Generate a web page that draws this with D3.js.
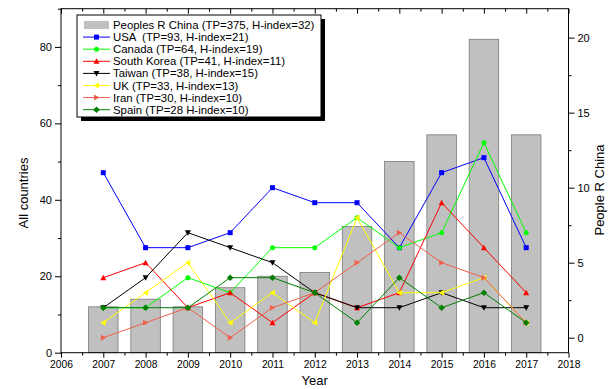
<!DOCTYPE html>
<html><head><meta charset="utf-8">
<script src="https://cdn.jsdelivr.net/npm/d3@7"></script>
<style>
html,body{margin:0;padding:0;background:#fff;}
text{font-family:"Liberation Sans",Arial,sans-serif;}
</style></head>
<body><svg id="c" width="613" height="389"></svg>
<script>
const years = [2007,2008,2009,2010,2011,2012,2013,2014,2015,2016,2017];
const chinaBars = [12,14,12,17,20,21,33,50,57,82,57];
const usa    = [11,6,6,7,10,9,9,6,11,12,6];
const canada = [2,2,4,3,6,6,8,6,7,13,7];
const korea  = [4,5,2,3,1,3,2,3,9,6,3];
const taiwan = [2,4,7,6,5,3,2,2,3,2,2];
const uk     = [1,3,5,1,3,1,8,3,3,4,1];
const iran   = [0,1,2,0,2,3,5,7,5,4,1];
const spain  = [2,2,2,4,4,3,1,4,2,3,1];
const xTicks = [2006,2007,2008,2009,2010,2011,2012,2013,2014,2015,2016,2017,2018];
const leftTicks = [0,20,40,60,80];
const rightTicks = [0,5,10,15,20];
const barLabel = "Peoples R China (TP=375, H-index=32)";
const seriesNames = ["USA  (TP=93, H-index=21)","Canada (TP=64, H-index=19)","South Korea (TP=41, H-index=11)","Taiwan (TP=38, H-index=15)","UK (TP=33, H-index=13)","Iran (TP=30, H-index=10)","Spain (TP=28 H-index=10)"];
const seriesData = [usa,canada,korea,taiwan,uk,iran,spain];
const seriesColors = ["#0000ff","#00ff00","#ff0000","#000000","#ffff00","#f0604a","#008000"];
const seriesSymbols = ["square","circle","triUp","triDown","triLeft","triRight","diamond"];

const svg = d3.select("#c");
const L=61, R=568.5, T=8.7, B=352.7;
const x = d3.scaleLinear().domain([2006,2018]).range([L,R]);
const yL = d3.scaleLinear().domain([0,90]).range([B,T]);
const yR = d3.scaleLinear().domain([-1,21.93]).range([B,T]);

// bars
const bw = 29.5;
svg.append("g").selectAll("rect").data(years).join("rect")
  .attr("x",(d)=>x(d)-bw/2).attr("width",bw)
  .attr("y",(d,i)=>yL(chinaBars[i])).attr("height",(d,i)=>B-yL(chinaBars[i]))
  .attr("fill","#c0c0c0").attr("stroke","#7a7a7a").attr("stroke-width",0.8);

function symPath(type, s){
  const h=s/2;
  switch(type){
    case "square": return `M${-h},${-h}H${h}V${h}H${-h}Z`;
    case "circle": return d3.symbol(d3.symbolCircle, Math.PI*h*h)();
    case "triUp": return `M0,${-h-0.5}L${h+0.5},${h}L${-h-0.5},${h}Z`;
    case "triDown": return `M0,${h+0.5}L${h+0.5},${-h}L${-h-0.5},${-h}Z`;
    case "triLeft": return `M${-h-0.5},0L${h},${-h-0.5}L${h},${h+0.5}Z`;
    case "triRight": return `M${h+0.5},0L${-h},${-h-0.5}L${-h},${h+0.5}Z`;
    case "diamond": return `M0,${-h-0.8}L${h+0.8},0L0,${h+0.8}L${-h-0.8},0Z`;
  }
}
const line = d3.line().x((d,i)=>x(years[i])).y(d=>yR(d));
seriesData.forEach((arr,k)=>{
  const g = svg.append("g");
  g.append("path").attr("d",line(arr)).attr("fill","none").attr("stroke",seriesColors[k]).attr("stroke-width",1);
  g.selectAll("path.m").data(arr).join("path").attr("class","m")
    .attr("transform",(d,i)=>`translate(${x(years[i])},${yR(d)})`)
    .attr("d",symPath(seriesSymbols[k],5)).attr("fill",seriesColors[k]);
});

// frame
svg.append("rect").attr("x",L).attr("y",T).attr("width",R-L).attr("height",B-T)
  .attr("fill","none").attr("stroke","#000").attr("stroke-width",1);
const minorX = d3.range(2006.5,2018,1);
// bottom
svg.append("g").attr("class","bx").attr("transform",`translate(0,${B})`)
  .call(d3.axisBottom(x).tickValues(xTicks).tickFormat(d3.format("d")).tickSize(5).tickPadding(3));
svg.append("g").attr("transform",`translate(0,${B})`).call(d3.axisBottom(x).tickValues(minorX).tickSize(3).tickFormat(""));
// top (inward)
svg.append("g").attr("transform",`translate(0,${T})`).call(d3.axisBottom(x).tickValues(xTicks).tickSize(5).tickFormat(""));
svg.append("g").attr("transform",`translate(0,${T})`).call(d3.axisBottom(x).tickValues(minorX).tickSize(3).tickFormat(""));
// left
svg.append("g").attr("class","vy").attr("transform",`translate(${L},0)`).call(d3.axisLeft(yL).tickValues(leftTicks).tickSize(6).tickPadding(3));
svg.append("g").attr("transform",`translate(${L},0)`).call(d3.axisLeft(yL).tickValues([10,30,50,70,90]).tickSize(3).tickFormat(""));
// right
svg.append("g").attr("class","vy").attr("transform",`translate(${R},0)`).call(d3.axisRight(yR).tickValues(rightTicks).tickSize(6).tickPadding(3));
svg.append("g").attr("transform",`translate(${R},0)`).call(d3.axisRight(yR).tickValues([2.5,7.5,12.5,17.5]).tickSize(3).tickFormat(""));
svg.selectAll(".domain").remove();
svg.selectAll(".tick text").attr("font-family","Liberation Sans, Arial, sans-serif").attr("fill","#000");
svg.selectAll(".vy .tick text").attr("font-size",11);
svg.selectAll(".bx .tick text").attr("font-size",10.3);
svg.selectAll(".tick line").attr("stroke","#000");

// axis titles
svg.append("text").attr("x",(L+R)/2).attr("y",385).attr("text-anchor","middle").attr("font-size",13).text("Year");
svg.append("text").attr("transform",`translate(28,193) rotate(-90)`).attr("text-anchor","middle").attr("font-size",13).text("All countries");
svg.append("text").attr("transform",`translate(604,190) rotate(-90)`).attr("text-anchor","middle").attr("font-size",13).text("People R China");

// legend
const lg = svg.append("g");
const lx=77, ly=15, lw=244, lh=102;
lg.append("rect").attr("x",lx+4).attr("y",ly+4).attr("width",lw).attr("height",lh).attr("fill","#000");
lg.append("rect").attr("x",lx).attr("y",ly).attr("width",lw).attr("height",lh).attr("fill","#fff").attr("stroke","#000").attr("stroke-width",1);
const rowY = (i)=>25+i*12.1;
lg.append("rect").attr("x",84).attr("y",rowY(0)-4).attr("width",25).attr("height",8).attr("fill","#c0c0c0");
lg.append("text").attr("x",113).attr("y",rowY(0)+4).attr("font-size",11.4).text(barLabel);
seriesNames.forEach((n,k)=>{
  const yy=rowY(k+1);
  lg.append("line").attr("x1",83).attr("x2",110).attr("y1",yy).attr("y2",yy).attr("stroke",seriesColors[k]).attr("stroke-width",1);
  lg.append("path").attr("transform",`translate(96.5,${yy})`).attr("d",symPath(seriesSymbols[k],5)).attr("fill",seriesColors[k]);
  lg.append("text").attr("x",113).attr("y",yy+4).attr("font-size",11.4).attr("xml:space","preserve").style("white-space","pre").text(n);
});
</script></body></html>
